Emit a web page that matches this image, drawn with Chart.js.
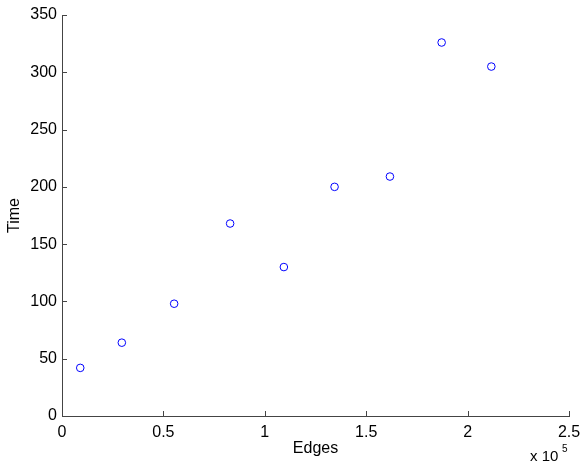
<!DOCTYPE html>
<html>
<head>
<meta charset="utf-8">
<script src="https://cdn.jsdelivr.net/npm/chart.js@4.4.0/dist/chart.umd.min.js"></script>
<style>
  html, body { margin: 0; padding: 0; background: #fff; }
  #wrap { width: 583px; height: 464px; }
</style>
</head>
<body>
<div id="wrap"><canvas id="myChart" width="583" height="464"></canvas></div>
<script>
// values
var edges = [9000, 29500, 55300, 82900, 109400, 134400, 161700, 187200, 211700]
var times = [42, 64, 98, 168, 130, 200, 209, 326, 305]
var xTicks = [0, 50000, 100000, 150000, 200000, 250000]
var yTicks = [0, 50, 100, 150, 200, 250, 300, 350]

var points = []
for (var i = 0; i < edges.length; i++) {
    points.push({x: edges[i], y: times[i]})
}

var FONT = '"Liberation Sans", Arial, Helvetica, sans-serif'
var axisColor = '#444'

// matlab style ticks pointing inward + the x 10^5 exponent
const matlabAxes = {
    id: 'matlabAxes',
    afterDraw: (chart) => {
        const {ctx, chartArea} = chart;
        const xs = chart.scales.x, ys = chart.scales.y;
        ctx.save();
        ctx.strokeStyle = axisColor;
        ctx.lineWidth = 1;
        ctx.beginPath();
        xTicks.forEach(function(v) {
            var px = Math.round(xs.getPixelForValue(v)) + 0.5;
            ctx.moveTo(px, chartArea.bottom);
            ctx.lineTo(px, chartArea.bottom - 5);
        });
        yTicks.forEach(function(v) {
            var py = Math.round(ys.getPixelForValue(v)) + 0.5;
            ctx.moveTo(chartArea.left, py);
            ctx.lineTo(chartArea.left + 5, py);
        });
        ctx.stroke();

        ctx.fillStyle = '#000';
        ctx.textBaseline = 'alphabetic';
        ctx.textAlign = 'left';
        ctx.font = '15px ' + FONT;
        ctx.fillText('x 10', 530, 461);
        ctx.font = '10px ' + FONT;
        ctx.fillText('5', 562, 452);
        ctx.restore();
    }
};

new Chart(document.getElementById('myChart'), {
    type: 'scatter',
    data: {
        datasets: [{
            label: 'Time',
            data: points,
            borderColor: '#0000ff',
            backgroundColor: 'rgba(0,0,0,0)',
            borderWidth: 1,
            pointRadius: 3.8,
            pointHoverRadius: 3.8,
        }]
    },
    options: {
        responsive: false,
        animation: false,
        layout: { padding: {top: 15, right: 14, left: 0, bottom: 0} },
        plugins: {
            legend: { display: false },
            tooltip: { enabled: false },
        },
        scales: {
            x: {
                type: 'linear',
                min: 0,
                max: 250000,
                afterFit: function(scale) {
                    scale.height = 48;
                    scale.paddingLeft = 0;
                    scale.paddingRight = 0;
                },
                afterBuildTicks: function(scale) {
                    scale.ticks = xTicks.map(function(v) { return {value: v}; });
                },
                grid: { display: false, drawTicks: false },
                border: { display: true, color: axisColor, width: 1 },
                ticks: {
                    color: '#000',
                    font: { family: FONT, size: 16 },
                    padding: 7,
                    maxRotation: 0,
                    callback: function(v) { return String(v / 100000); }
                },
                title: {
                    display: true,
                    text: 'Edges',
                    color: '#000',
                    font: { family: FONT, size: 16 },
                    padding: { top: 0, bottom: 6 }
                }
            },
            y: {
                type: 'linear',
                min: 0,
                max: 350,
                afterFit: function(scale) {
                    scale.width = 62;
                    scale.paddingTop = 0;
                    scale.paddingBottom = 0;
                },
                afterBuildTicks: function(scale) {
                    scale.ticks = yTicks.map(function(v) { return {value: v}; });
                },
                grid: { display: false, drawTicks: false },
                border: { display: true, color: axisColor, width: 1 },
                ticks: {
                    color: '#000',
                    font: { family: FONT, size: 16 },
                    padding: 5,
                },
                title: {
                    display: true,
                    text: 'Time',
                    color: '#000',
                    font: { family: FONT, size: 16 },
                    padding: { top: 5, bottom: 0 }
                }
            }
        }
    },
    plugins: [matlabAxes],
});
</script>
</body>
</html>
